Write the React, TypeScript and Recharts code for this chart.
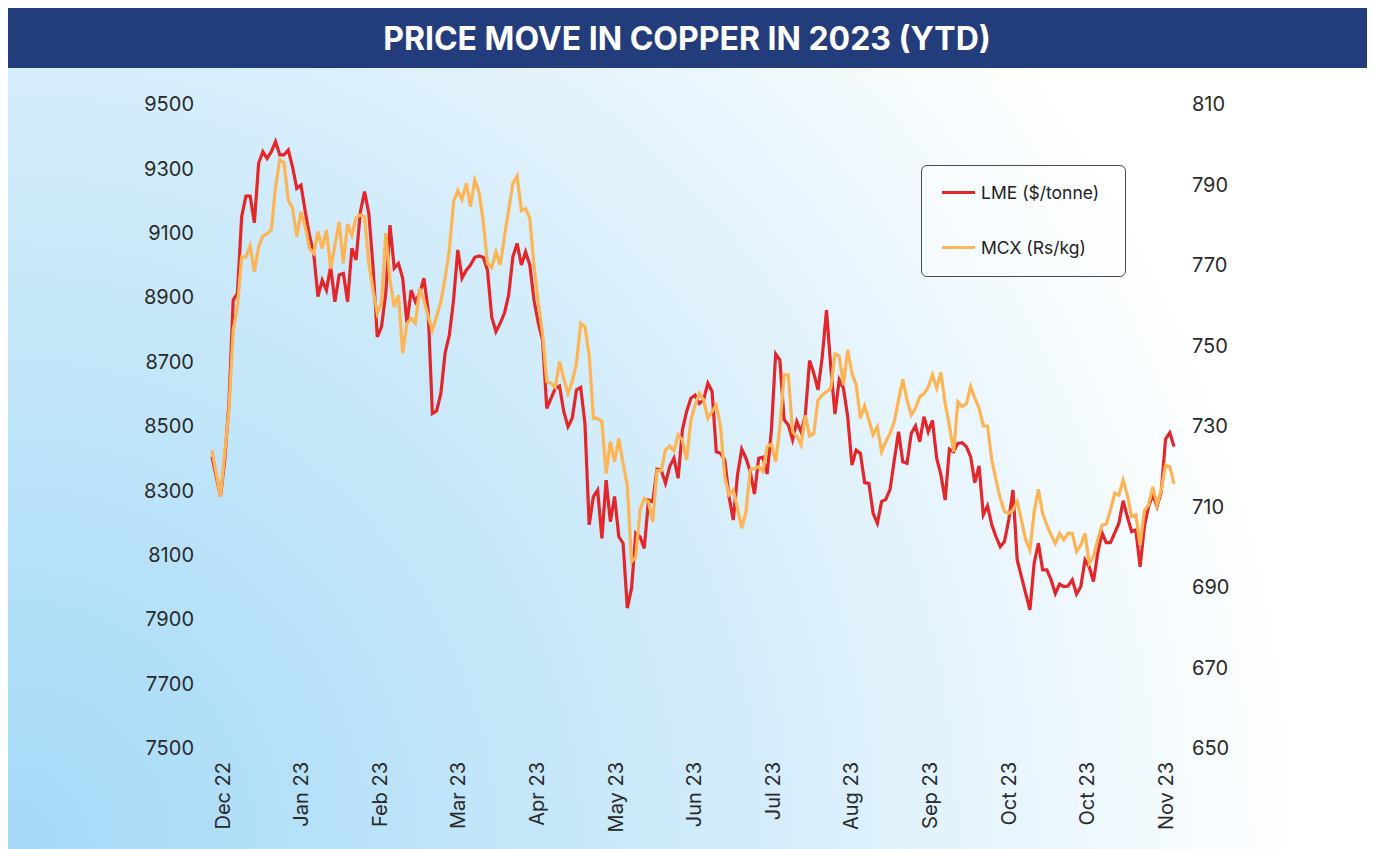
import React from "react";
import { LineChart, Line, XAxis, YAxis, Legend } from "recharts";

const lmeValues = [
  8405, 8343, 8281, 8394, 8570, 8891, 8912, 9150, 9214, 9214,
  9131, 9316, 9352, 9331, 9352, 9383, 9342, 9342, 9357, 9305,
  9238, 9248, 9166, 9093, 9036, 8902, 8953, 8922, 8995, 8886,
  8969, 8974, 8886, 9052, 9016, 9165, 9228, 9160, 8995, 8777,
  8808, 8912, 9124, 8990, 9005, 8959, 8819, 8922, 8886, 8912,
  8959, 8860, 8539, 8547, 8601, 8726, 8782, 8891, 9047, 8959,
  8984, 9000, 9024, 9028, 9024, 8984, 8839, 8793, 8819, 8850,
  8907, 9026, 9067, 9000, 9041, 9000, 8890, 8819, 8767, 8555,
  8586, 8617, 8624, 8545, 8498, 8524, 8612, 8620, 8508, 8193,
  8281, 8301, 8151, 8332, 8203, 8281, 8156, 8136, 7934, 7996,
  8167, 8156, 8120, 8270, 8265, 8366, 8363, 8322, 8374, 8400,
  8338, 8488, 8545, 8586, 8596, 8570, 8581, 8633, 8607, 8420,
  8415, 8394, 8281, 8208, 8348, 8428, 8400, 8358, 8289, 8400,
  8403, 8351, 8488, 8724, 8705, 8519, 8503, 8457, 8514, 8482,
  8534, 8703, 8664, 8612, 8715, 8860, 8684, 8537, 8643, 8617,
  8529, 8379, 8425, 8415, 8324, 8322, 8229, 8198, 8265, 8272,
  8303, 8394, 8482, 8389, 8384, 8477, 8500, 8451, 8529, 8482,
  8517, 8400, 8348, 8270, 8428, 8420, 8446, 8448, 8436, 8405,
  8324, 8376, 8224, 8252, 8193, 8156, 8125, 8141, 8208, 8301,
  8084, 8032, 7980, 7929, 8074, 8136, 8053, 8053, 8022, 7980,
  8009, 8001, 8003, 8022, 7978, 8001, 8084, 8063, 8017, 8105,
  8169, 8138, 8138, 8167, 8198, 8268, 8218, 8172, 8177, 8063,
  8187, 8250, 8286, 8250, 8296, 8459, 8479, 8436,
];

const mcxValues = [
  724.0, 718.2, 712.4, 723.2, 734.0, 753.8, 759.6, 772.0, 772.0, 774.7,
  768.3, 774.5, 777.2, 777.8, 778.8, 789.4, 796.2, 795.4, 786.1, 784.1,
  777.0, 783.2, 779.5, 774.1, 772.9, 778.3, 774.1, 778.7, 769.1, 774.9,
  780.7, 770.4, 780.2, 777.4, 781.8, 782.4, 782.0, 770.5, 763.8, 758.0,
  760.5, 777.9, 766.3, 759.6, 762.5, 748.1, 755.5, 756.7, 755.5, 764.2,
  761.3, 757.2, 753.8, 757.2, 760.9, 766.7, 773.7, 785.7, 788.5, 786.2,
  790.3, 784.5, 791.1, 788.2, 780.8, 770.4, 769.4, 773.3, 770.0, 777.0,
  783.7, 790.3, 792.1, 783.5, 784.0, 781.6, 769.6, 760.5, 753.0, 741.0,
  740.6, 739.6, 746.0, 741.8, 738.1, 741.0, 745.6, 755.5, 754.7, 747.6,
  731.9, 731.9, 731.1, 718.2, 726.1, 721.1, 726.9, 720.7, 715.3, 696.3,
  697.5, 709.1, 712.0, 711.2, 706.2, 718.9, 718.9, 724.0, 725.0, 723.9,
  727.8, 726.5, 721.6, 731.5, 735.2, 738.1, 736.5, 731.9, 733.6, 735.2,
  729.8, 717.4, 712.9, 714.1, 709.6, 704.6, 708.7, 719.1, 719.5, 719.9,
  718.7, 724.9, 725.5, 721.1, 729.8, 742.7, 742.7, 728.6, 727.4, 725.3,
  732.7, 727.5, 728.0, 736.5, 737.7, 738.5, 739.4, 747.9, 747.4, 740.2,
  748.9, 743.1, 740.2, 731.9, 735.0, 731.5, 727.8, 729.8, 723.6, 726.1,
  728.2, 731.1, 736.5, 741.6, 736.5, 732.7, 734.4, 737.3, 738.0, 739.6,
  742.7, 739.4, 743.3, 735.6, 730.2, 723.6, 736.0, 734.8, 735.5, 739.8,
  736.9, 734.4, 730.0, 730.0, 721.6, 716.6, 712.0, 708.7, 708.3, 709.1,
  711.2, 706.6, 701.7, 699.2, 708.7, 714.3, 708.3, 705.4, 702.9, 700.8,
  703.3, 701.7, 703.3, 703.3, 698.8, 700.4, 703.3, 695.9, 697.5, 701.7,
  705.4, 705.6, 709.1, 713.3, 712.8, 716.6, 712.8, 707.5, 707.9, 700.4,
  709.0, 710.4, 714.9, 710.4, 714.1, 720.3, 719.9, 715.6,
];

const tickLabels = [
  "Dec 22", "Jan 23", "Feb 23", "Mar 23", "Apr 23", "May 23", "Jun 23",
  "Jul 23", "Aug 23", "Sep 23", "Oct 23", "Oct 23", "Nov 23",
];
const tickStart = 2.48;
const tickStep = 18.55;

const leftTicks = [7500, 7700, 7900, 8100, 8300, 8500, 8700, 8900, 9100, 9300, 9500];
const rightTicks = [650, 670, 690, 710, 730, 750, 770, 790, 810];

const seriesNames = { lme: "LME ($/tonne)", mcx: "MCX (Rs/kg)" };

const data = lmeValues.map((v, i) => ({ i, lme: v, mcx: mcxValues[i] }));
const xTicks = tickLabels.map((_, k) => tickStart + tickStep * k);

const FONT = "Inter, 'Noto Sans', sans-serif";
const RED = "#e3262a";
const ORANGE = "#fdb454";

const XTick = (props: any) => {
  const { x, y, index } = props;
  return (
    <text
      x={x}
      y={y}
      transform={`rotate(-90, ${x}, ${y})`}
      textAnchor="end"
      dominantBaseline="central"
      fontSize={20}
      fontFamily={FONT}
      fill="#2a2a2a"
    >
      {tickLabels[index]}
    </text>
  );
};

const LegendBox = () => (
  <div
    style={{
      width: 203,
      height: 110,
      border: "1px solid #4a4a4a",
      borderRadius: 6,
      background: "rgba(255,255,255,0.35)",
      position: "relative",
      fontFamily: FONT,
      fontSize: 17.5,
      color: "#222",
    }}
  >
    {[
      { name: seriesNames.lme, color: RED, top: 26 },
      { name: seriesNames.mcx, color: ORANGE, top: 81 },
    ].map((it) => (
      <div
        key={it.name}
        style={{ position: "absolute", left: 20, top: it.top - 10, height: 20, display: "flex", alignItems: "center" }}
      >
        <div style={{ width: 33, height: 3, background: it.color }} />
        <span style={{ marginLeft: 6, whiteSpace: "nowrap" }}>{it.name}</span>
      </div>
    ))}
  </div>
);

export default function App() {
  return (
    <div style={{ width: 1360, marginLeft: -1, fontFamily: FONT }}>
      <div
        style={{
          height: 60,
          background: "#233c7b",
          color: "#fff",
          fontWeight: 700,
          fontSize: 32,
          display: "flex",
          alignItems: "center",
          justifyContent: "center",
          letterSpacing: 0,
        }}
      >
        PRICE MOVE IN COPPER IN 2023 (YTD)
      </div>
      <div
        style={{
          width: 1360,
          height: 781,
          background: "radial-gradient(circle at 0% 100%, #a2d9f7 0px, #d0ebfa 700px, #ffffff 1300px)",
        }}
      >
        <LineChart width={1360} height={781} data={data} margin={{ top: 36, right: 0, bottom: 0, left: 0 }}>
          <XAxis
            dataKey="i"
            type="number"
            domain={[0, lmeValues.length - 1]}
            ticks={xTicks}
            interval={0}
            axisLine={false}
            tickLine={false}
            tickSize={0}
            tickMargin={14}
            height={101}
            tick={<XTick />}
            allowDecimals
          />
          <YAxis
            yAxisId="left"
            orientation="left"
            domain={[7500, 9500]}
            ticks={leftTicks}
            interval={0}
            axisLine={false}
            tickLine={false}
            tickSize={0}
            tickMargin={18}
            width={205}
            tick={{ fontSize: 20, fill: "#2a2a2a", fontFamily: FONT }}
          />
          <YAxis
            yAxisId="right"
            orientation="right"
            domain={[650, 810]}
            ticks={rightTicks}
            interval={0}
            axisLine={false}
            tickLine={false}
            tickSize={0}
            tickMargin={18}
            width={193}
            tick={{ fontSize: 20, fill: "#2a2a2a", fontFamily: FONT, textAnchor: "start" }}
          />
          <Legend
            layout="vertical"
            align="center"
            verticalAlign="middle"
            wrapperStyle={{ left: 914, top: 97, width: 205, height: 112 }}
            content={() => <LegendBox />}
          />
          <Line
            yAxisId="left"
            dataKey="lme"
            name={seriesNames.lme}
            type="linear"
            stroke={RED}
            strokeWidth={3.2}
            dot={false}
            isAnimationActive={false}
          />
          <Line
            yAxisId="right"
            dataKey="mcx"
            name={seriesNames.mcx}
            type="linear"
            stroke={ORANGE}
            strokeWidth={3.2}
            dot={false}
            isAnimationActive={false}
          />
        </LineChart>
      </div>
    </div>
  );
}
